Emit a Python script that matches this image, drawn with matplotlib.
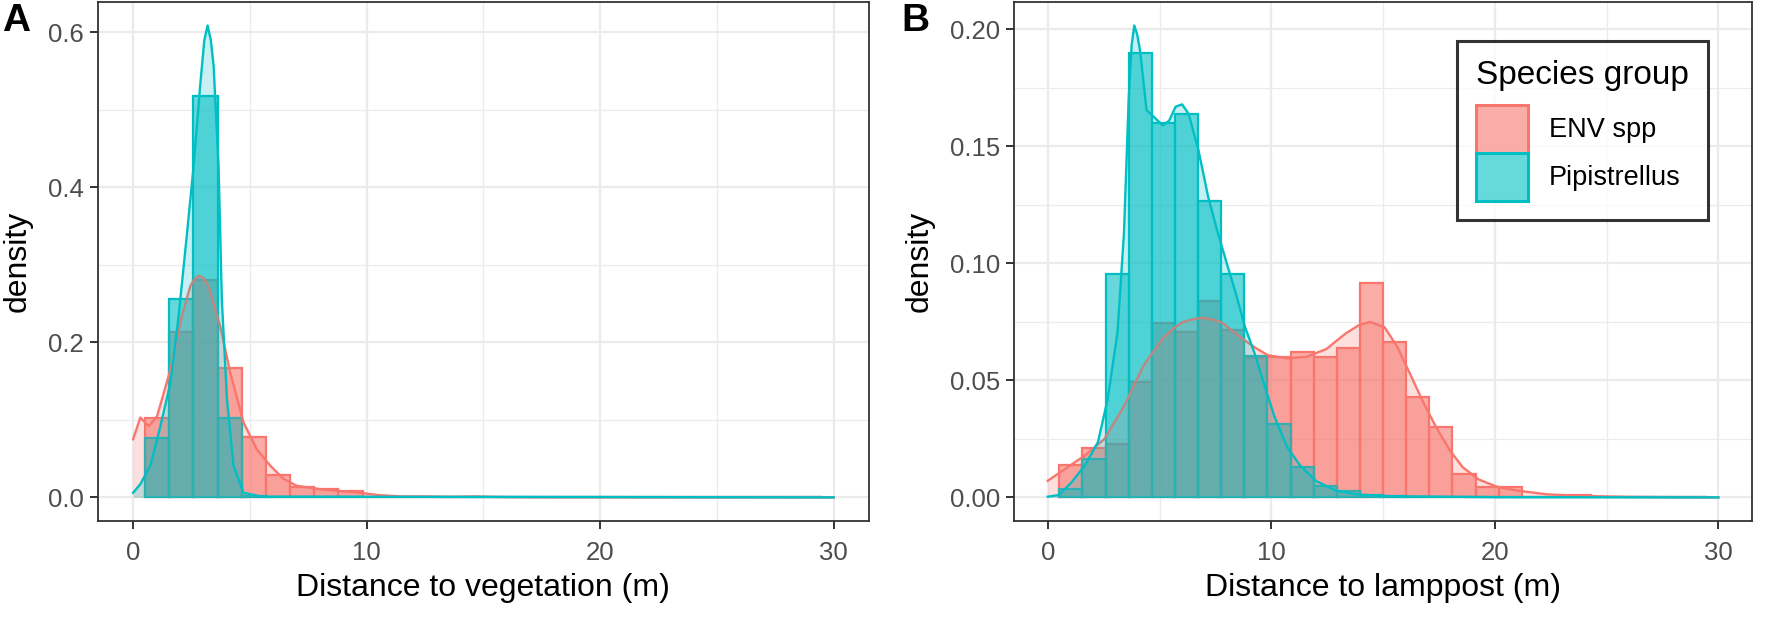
import numpy as np
import matplotlib.pyplot as plt
from matplotlib.patches import Patch
from matplotlib.ticker import MultipleLocator

plt.rcParams['font.family'] = ['Liberation Sans', 'DejaVu Sans']

RED = "#F8766D"
TEAL = "#00BFC4"

# histogram bins: 30 bins over [0, 30], outer two dropped by the limits
bin_w = 30 / 29
centers = np.arange(1, 29) * bin_w

# panel A: distance to vegetation
veg_env = [0.103, 0.214, 0.280, 0.167, 0.078, 0.029, 0.0137, 0.0104, 0.0088, 0, 0, 0.001, 0, 0.001,
           0, 0, 0, 0, 0, 0, 0, 0, 0, 0, 0, 0, 0, 0]
veg_pip = [0.077, 0.256, 0.518, 0.103, 0.002, 0, 0, 0, 0, 0, 0, 0, 0, 0,
           0, 0, 0, 0, 0, 0, 0, 0, 0, 0, 0, 0, 0, 0]

veg_env_kx = [0, 0.31, 0.67, 1.03, 1.6, 2.09, 2.45, 2.63, 2.81, 3.02, 3.23, 3.73, 4.16, 4.73, 5.3, 5.87,
              6.44, 7.0, 8.15, 9.57, 10.5, 11.5, 12.5, 13.5, 14.6, 15.5, 17, 20, 25, 30]
veg_env_ky = [0.075, 0.103, 0.092, 0.105, 0.165, 0.234, 0.2725, 0.282, 0.286, 0.283, 0.2725, 0.221, 0.161,
              0.0966, 0.062, 0.041, 0.024, 0.015, 0.010, 0.0064, 0.003, 0.0012, 0.0012, 0.0006, 0.0012,
              0.0005, 0.0001, 0, 0, 0]
veg_pip_kx = [0, 0.31, 0.74, 1.17, 1.6, 1.95, 2.31, 2.59, 2.88, 3.05, 3.19, 3.33, 3.45, 3.66, 3.8, 4.02,
              4.3, 4.73, 5.5, 30]
veg_pip_ky = [0.006, 0.017, 0.041, 0.092, 0.148, 0.234, 0.341, 0.427, 0.534, 0.59, 0.609, 0.59, 0.556,
              0.427, 0.255, 0.127, 0.041, 0.006, 0.001, 0]

# panel B: distance to lamppost
lamp_env = [0.0137, 0.0209, 0.023, 0.0495, 0.0745, 0.0705, 0.084, 0.0715, 0.0595, 0.060, 0.062, 0.060,
            0.0637, 0.0918, 0.0664, 0.0428, 0.0299, 0.0098, 0.0043, 0.0045, 0, 0, 0.001, 0, 0, 0, 0, 0]
lamp_pip = [0.0034, 0.0162, 0.0955, 0.190, 0.160, 0.1637, 0.1265, 0.0957, 0.0605, 0.0315, 0.0132,
            0.0049, 0.0027, 0.001, 0.0005, 0, 0, 0, 0, 0, 0, 0, 0, 0, 0, 0, 0, 0]

lamp_env_kx = [0, 0.8, 1.67, 2.54, 3.41, 4.28, 5.14, 5.7, 6.01, 6.5, 6.93, 7.3, 7.8, 8.68, 9.26, 9.84,
               10.71, 11.58, 12.46, 13.33, 13.9, 14.42, 15.07, 15.65, 16.24, 16.82, 17.4, 17.98, 18.56,
               19.29, 20.16, 21.18, 22.34, 24, 26, 30]
lamp_env_ky = [0.0071, 0.0123, 0.018, 0.025, 0.039, 0.0563, 0.068, 0.0728, 0.0748, 0.0762, 0.0767,
               0.0762, 0.0747, 0.068, 0.0641, 0.0608, 0.0594, 0.0601, 0.0634, 0.0701, 0.0735, 0.075,
               0.0727, 0.0641, 0.0521, 0.0402, 0.0295, 0.0202, 0.0129, 0.0076, 0.0043, 0.0027, 0.0013,
               0.0006, 0.0002, 0]
lamp_pip_kx = [0, 0.5, 1.09, 1.67, 2.25, 2.68, 3.12, 3.41, 3.62, 3.75, 3.87, 4.0, 4.13, 4.42, 4.71, 5.14,
               5.43, 5.72, 6.01, 6.3, 6.74, 7.17, 7.61, 8.04, 8.39, 8.82, 9.26, 9.69, 10.13, 10.71, 11.29,
               12.02, 12.89, 13.9, 15.36, 20, 30]
lamp_pip_ky = [0.0003, 0.001, 0.0067, 0.0138, 0.0237, 0.042, 0.0705, 0.113, 0.170, 0.193, 0.2017, 0.198,
               0.191, 0.1655, 0.163, 0.159, 0.161, 0.167, 0.168, 0.164, 0.1485, 0.1287, 0.113, 0.099,
               0.088, 0.073, 0.0614, 0.048, 0.0348, 0.0215, 0.0136, 0.0069, 0.0029, 0.0012, 0.0005,
               0.0001, 0]

groups = ["ENV spp", "Pipistrellus"]


def draw_panel(ax, env, pip, env_k, pip_k, xlabel, ymax, ystep, yfmt):
    for vals, col in [(env, RED), (pip, TEAL)]:
        ax.bar(centers, vals, width=bin_w, facecolor=col, alpha=0.6, edgecolor="none", zorder=2)
        ax.bar(centers, vals, width=bin_w, facecolor="none", edgecolor=col, linewidth=1.6, zorder=2)
    for (kx, ky), col in [(env_k, RED), (pip_k, TEAL)]:
        ax.fill_between(kx, ky, 0, color=col, alpha=0.22, linewidth=0, zorder=3)
        ax.plot(kx, ky, color=col, linewidth=1.7, zorder=3)

    ax.set_xlim(-1.5, 31.5)
    ax.set_ylim(-ymax * 0.05, ymax * 1.05)
    ax.xaxis.set_major_locator(MultipleLocator(10))
    ax.xaxis.set_minor_locator(MultipleLocator(5))
    ax.yaxis.set_major_locator(MultipleLocator(ystep))
    ax.yaxis.set_minor_locator(MultipleLocator(ystep / 2))
    ax.yaxis.set_major_formatter(yfmt)
    ax.grid(which="major", color="#EBEBEB", linewidth=1.6, zorder=0)
    ax.grid(which="minor", color="#EBEBEB", linewidth=0.9, zorder=0)
    ax.set_axisbelow(True)
    ax.tick_params(which="major", length=5.5, width=1.4, color="#333333",
                   labelsize=18.5, labelcolor="#4D4D4D")
    ax.tick_params(axis="x", pad=9)
    ax.tick_params(axis="y", pad=4.5)
    ax.tick_params(which="minor", length=0)
    for s in ax.spines.values():
        s.set_color("#333333")
        s.set_linewidth(1.3)
    ax.set_xlabel(xlabel, fontsize=23, labelpad=6)
    ax.set_ylabel("density", fontsize=23, labelpad=11)


fig = plt.figure(figsize=(17.7, 6.42), dpi=100)
ax1 = fig.add_axes([0.0554, 0.1885, 0.4354, 0.8085])
ax2 = fig.add_axes([0.573, 0.1885, 0.4168, 0.8085])

draw_panel(ax1, veg_env, veg_pip, (veg_env_kx, veg_env_ky), (veg_pip_kx, veg_pip_ky),
           "Distance to vegetation (m)", 0.609, 0.2, "{x:.1f}")
draw_panel(ax2, lamp_env, lamp_pip, (lamp_env_kx, lamp_env_ky), (lamp_pip_kx, lamp_pip_ky),
           "Distance to lamppost (m)", 0.2017, 0.05, "{x:.2f}")

handles = [Patch(facecolor=(0.98, 0.68, 0.66), edgecolor=RED, linewidth=2.2),
           Patch(facecolor=(0.40, 0.85, 0.86), edgecolor=TEAL, linewidth=2.2)]
leg = ax2.legend(handles, groups, title="Species group", loc="upper right",
                 bbox_to_anchor=(0.9405, 0.925), fontsize=19.5, title_fontsize=24,
                 handlelength=1.92, handleheight=2.35, labelspacing=0.0, handletextpad=0.75,
                 borderpad=0.7, borderaxespad=0, frameon=True, fancybox=False, alignment="left")
leg._legend_box.sep = 10
leg.get_frame().set_edgecolor("black")
leg.get_frame().set_linewidth(2.2)

fig.text(0.001, 0.995, "A", fontsize=28, fontweight="bold", va="top", ha="left")
fig.text(0.509, 0.995, "B", fontsize=28, fontweight="bold", va="top", ha="left")

fig.savefig("out.png", dpi=100)
